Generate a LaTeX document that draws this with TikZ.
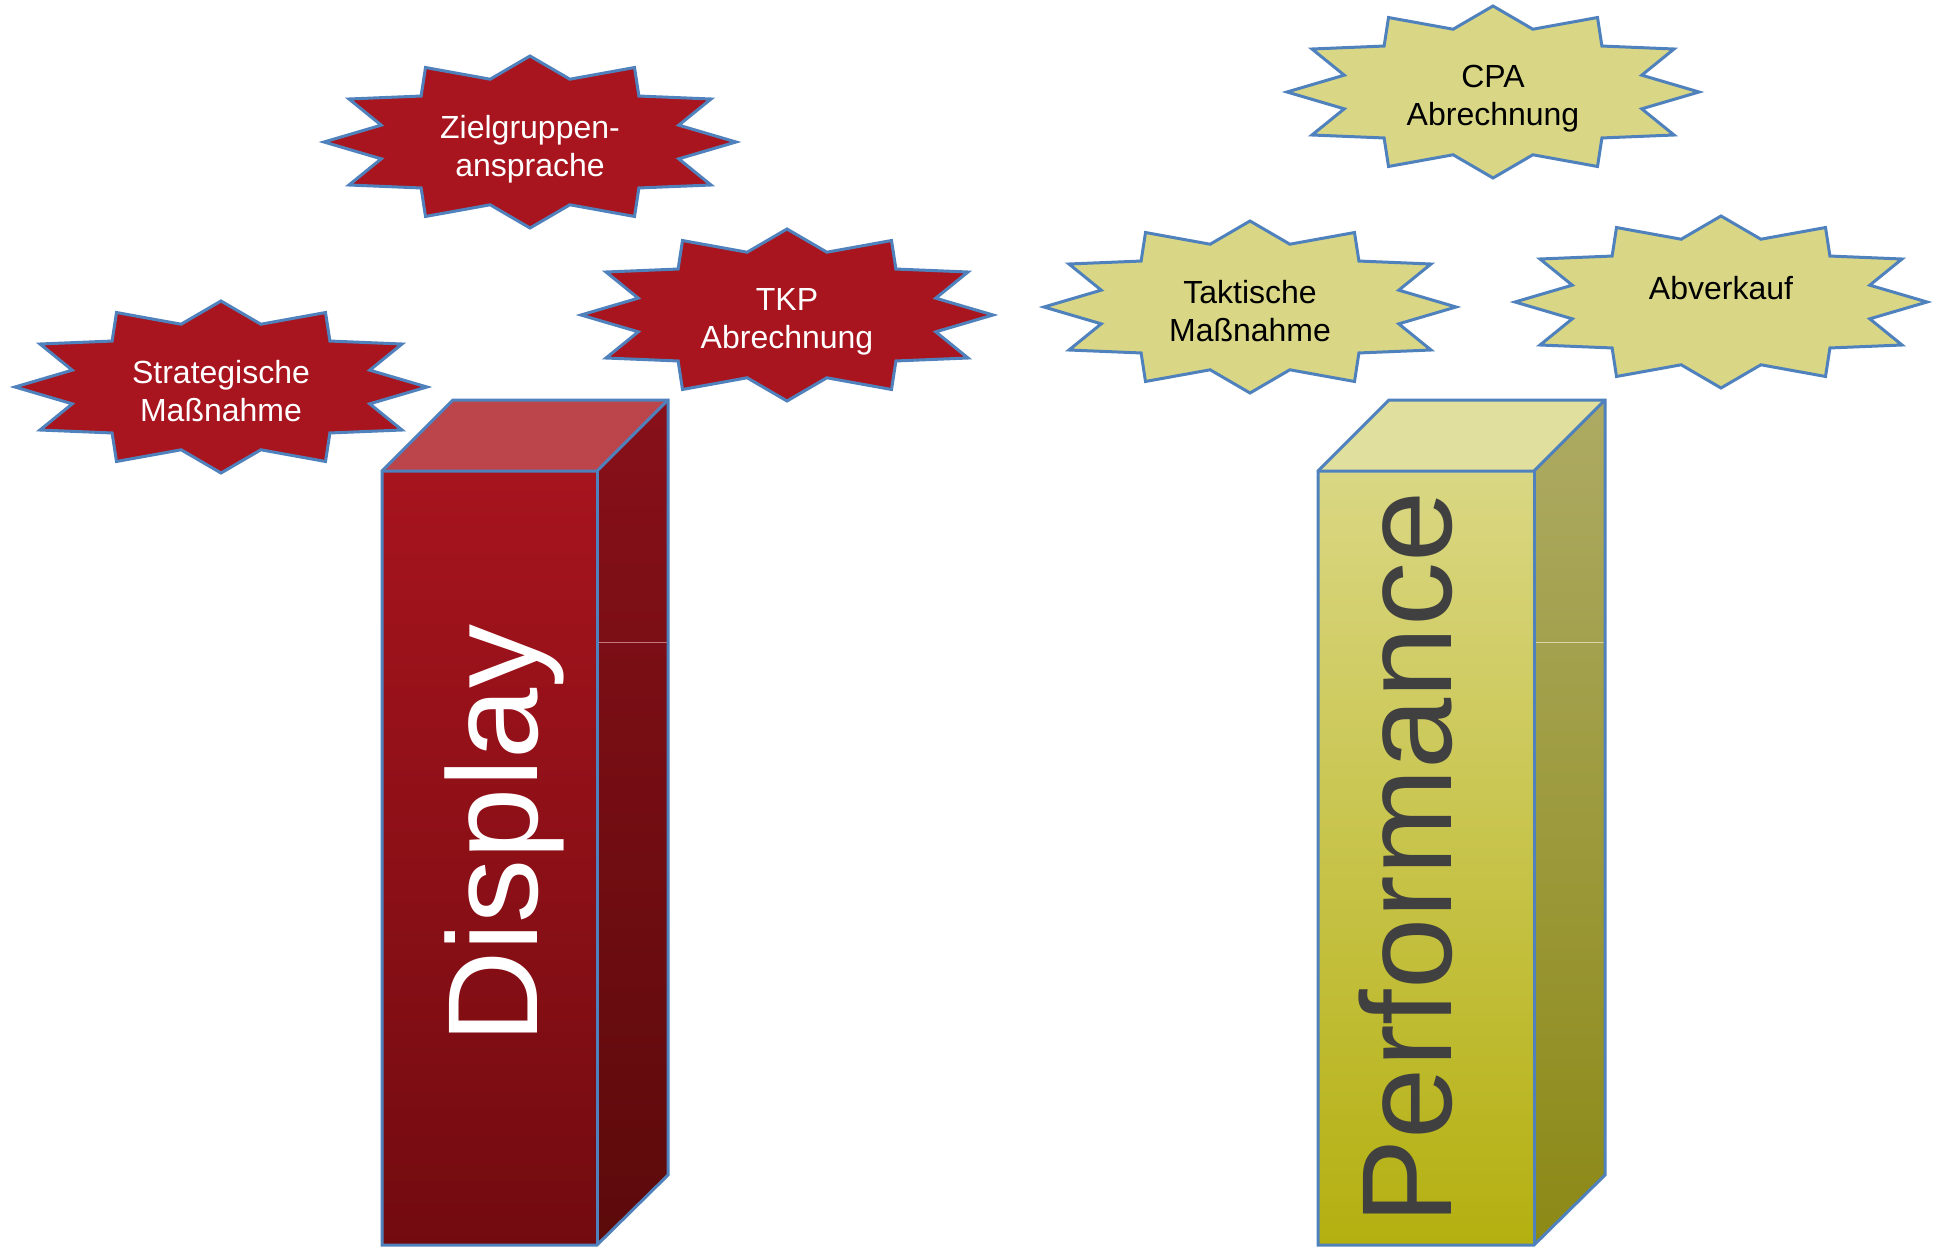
\documentclass[tikz,border=0pt]{standalone}
\usepackage{fontspec}
\setmainfont{Liberation Sans}
\definecolor{edgeblue}{HTML}{4F81BD}
\definecolor{redstar}{HTML}{A8151F}
\definecolor{redfronttop}{HTML}{A7141E}
\definecolor{redfrontbot}{HTML}{720B10}
\definecolor{redsidetop}{HTML}{88101A}
\definecolor{redsidebot}{HTML}{5C0A0B}
\definecolor{redtopface}{HTML}{BB454B}
\definecolor{redseam}{HTML}{C4787C}
\definecolor{yelstar}{HTML}{D9D785}
\definecolor{yelfronttop}{HTML}{DAD784}
\definecolor{yelfrontbot}{HTML}{B4B010}
\definecolor{yelsidetop}{HTML}{ADAB64}
\definecolor{yelsidebot}{HTML}{8C8916}
\definecolor{yeltopface}{HTML}{E0DF9D}
\definecolor{yelseam}{HTML}{D8D6A6}
\definecolor{perfgrey}{HTML}{404040}
\newcommand\burst[2]{%
  \draw[#2, shift={#1}] (0:206 and 86)
    \foreach \k in {0,...,10}{ -- ({\k*30+15}:154 and 65) -- ({\k*30+30}:{\k==5 ? 206 : 209} and 86)}
    -- (345:154 and 65) -- cycle;}
\begin{document}
\begin{tikzpicture}[x=1pt,y=-1pt,
  outline/.style={draw=edgeblue, line width=3pt, line join=miter},
  redburst/.style={fill=redstar, draw=edgeblue, line width=3pt},
  yelburst/.style={fill=yelstar, draw=edgeblue, line width=3pt},
  bursttext/.style={anchor=north, inner sep=0pt, align=center,
    font=\fontsize{32}{38}\selectfont},
  boxtext/.style={rotate=90, anchor=base, inner sep=0pt,
    font=\fontsize{128}{128}\selectfont},
  seam/.style={line width=1pt}
]
\useasboundingbox (0,0) rectangle (1937,1250);
\fill[white] (0,0) rectangle (1937,1250);

% ---------- Display box ----------
\shade[top color=redfronttop, bottom color=redfrontbot] (382,471) rectangle (597,1245);
\shade[top color=redsidetop, bottom color=redsidebot] (597,471) -- (668,400) -- (668,1175) -- (597,1245) -- cycle;
\fill[redtopface] (382,471) -- (453,400) -- (668,400) -- (597,471) -- cycle;
\draw[seam, redseam] (598,642) -- (667,642);
\draw[outline] (382,1245) -- (382,471) -- (453,400) -- (668,400) -- (668,1175) -- (597,1245) -- cycle;
\draw[outline] (382,471) -- (597,471) -- (668,400);
\draw[outline] (597,471) -- (597,1245);
\node[boxtext, text=white] (display) at (537,834) {Display};

% ---------- Performance box ----------
\shade[top color=yelfronttop, bottom color=yelfrontbot] (1318,471) rectangle (1534,1245);
\shade[top color=yelsidetop, bottom color=yelsidebot] (1534,471) -- (1605,400) -- (1605,1175) -- (1534,1245) -- cycle;
\fill[yeltopface] (1318,471) -- (1389,400) -- (1605,400) -- (1534,471) -- cycle;
\draw[seam, yelseam] (1535,642) -- (1604,642);
\draw[outline] (1318,1245) -- (1318,471) -- (1389,400) -- (1605,400) -- (1605,1175) -- (1534,1245) -- cycle;
\draw[outline] (1318,471) -- (1534,471) -- (1605,400);
\draw[outline] (1534,471) -- (1534,1245);
\node[boxtext, text=perfgrey] (performance) at (1451,858) {Performance};

% ---------- red bursts ----------
\burst{(221,387)}{redburst}
\node[bursttext, text=white] (strategisch) at (221,360) {Strategische\\Maßnahme};
\burst{(530,142)}{redburst}
\node[bursttext, text=white] (zielgruppen) at (530,115) {Zielgruppen-\\ansprache};
\burst{(787,315)}{redburst}
\node[bursttext, text=white] (tkp) at (787,288) {TKP\\Abrechnung};

% ---------- yellow bursts ----------
\burst{(1493,92)}{yelburst}
\node[bursttext, text=black] (cpa) at (1493,65) {CPA\\Abrechnung};
\burst{(1250,307)}{yelburst}
\node[bursttext, text=black] (taktisch) at (1250,280) {Taktische\\Maßnahme};
\burst{(1721,302)}{yelburst}
\node[bursttext, text=black] (abverkauf) at (1721,276) {Abverkauf};
\end{tikzpicture}
\end{document}
